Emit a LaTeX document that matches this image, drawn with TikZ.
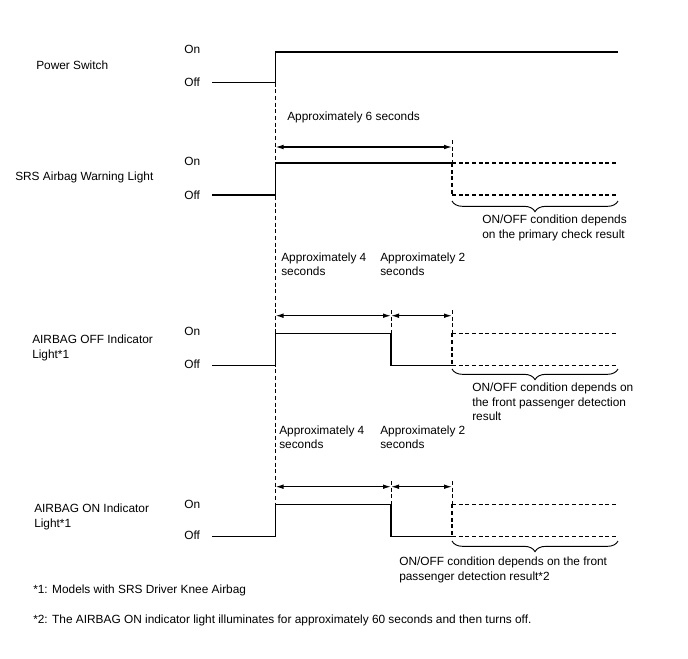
\documentclass[tikz,border=0pt]{standalone}
\usepackage{fontspec}
\setmainfont{Liberation Sans}
\usetikzlibrary{arrows.meta,decorations.pathreplacing}

\tikzset{
  lbl/.style={anchor=west, inner sep=0pt, align=left, font=\fontsize{8.9}{10.7}\selectfont},
  sig/.style={line width=1.2pt},
  open/.style={line width=0.9pt, dash pattern=on 3pt off 2pt},
  guide/.style={line width=0.5pt, dash pattern=on 3pt off 2pt},
  span/.style={line width=0.9pt, {Latex[length=6pt,width=3.5pt]}-{Latex[length=6pt,width=3.5pt]}},
  cond/.style={line width=0.7pt, decorate, decoration={brace, mirror, amplitude=8pt}}
}

\begin{document}
\begin{tikzpicture}[x=0.75pt, y=-0.75pt]
    \useasboundingbox (0,0) rectangle (688,658);
    % Power Switch:
    \node[lbl] (psw) at (36,65) {Power Switch};
    \node[lbl] (pson) at (184,49) {On};
    \node[lbl] (psoff) at (184,82.5) {Off};
    \draw[sig] (212,82.5) -- (275.5,82.5) -- (275.5,52) -- (618,52); % Signal
    \draw[guide] (275.5,82.5) -- (275.5,536.5); % Startlinie
    % SRS Airbag Warning Light:
    \node[lbl] (six) at (287,117) {Approximately 6 seconds};
    \coordinate (sa) at (275.5,147);
    \coordinate (sb) at (452,147);
    \draw[span] (sa) -- (sb);
    \node[lbl] (srs) at (15,177) {SRS Airbag Warning Light};
    \node[lbl] (srson) at (184,161) {On};
    \node[lbl] (srsoff) at (184,195) {Off};
    \draw[sig] (212,195) -- (275.5,195) -- (275.5,163) -- (452,163); % Signal
    \draw[guide] (452,140) -- (452,163);
    \draw[open] (452,163) -- (618,163); % On
    \draw[open] (452,163) -- (452,195);
    \draw[open] (452,195) -- (618,195); % Off
    \draw[cond] (452,201) -- (618,201);
    \node[lbl] (srscond) at (482,228) {ON/OFF condition depends\\on the primary check result};
    % AIRBAG OFF Indicator Light:
    \node[lbl] (offfour) at (281,264) {Approximately 4\\seconds};
    \node[lbl] (offtwo) at (380,264) {Approximately 2\\seconds};
    \coordinate (oa) at (275.5,315.7);
    \coordinate (ob) at (391,315.7);
    \coordinate (oc) at (452,315.7);
    \draw[guide] (391,310) -- (391,333.3);
    \draw[guide] (452,310) -- (452,333.3);
    \draw[span] (oa) -- (ob);
    \draw[span] (ob) -- (oc);
    \node[lbl] (offl) at (32,348) {AIRBAG OFF Indicator\\Light*1};
    \node[lbl] (offon) at (184,331) {On};
    \node[lbl] (offoff) at (184,364) {Off};
    \draw[sig] (212,365.5) -- (275.5,365.5) -- (275.5,333.3) -- (391,333.3) -- (391,365.5) -- (452,365.5); % Signal
    \draw[open] (452,333.3) -- (618,333.3); % On
    \draw[open] (452,333.3) -- (452,365.5);
    \draw[open] (452,365.5) -- (618,365.5); % Off
    \draw[cond] (452,369) -- (618,369);
    \node[lbl] (offcond) at (472,402) {ON/OFF condition depends on\\the front passenger detection\\result};
    % AIRBAG ON Indicator Light:
    \node[lbl] (onfour) at (279,437) {Approximately 4\\seconds};
    \node[lbl] (ontwo) at (380,437) {Approximately 2\\seconds};
    \coordinate (na) at (275.5,486.7);
    \coordinate (nb) at (391,486.7);
    \coordinate (nc) at (452,486.7);
    \draw[guide] (391,481) -- (391,504.3);
    \draw[guide] (452,481) -- (452,504.3);
    \draw[span] (na) -- (nb);
    \draw[span] (nb) -- (nc);
    \node[lbl] (onl) at (34,517) {AIRBAG ON Indicator\\Light*1};
    \node[lbl] (onon) at (184,504) {On};
    \node[lbl] (onoff) at (184,535) {Off};
    \draw[sig] (212,536.5) -- (275.5,536.5) -- (275.5,504.3) -- (391,504.3) -- (391,536.5) -- (452,536.5); % Signal
    \draw[open] (452,504.3) -- (618,504.3); % On
    \draw[open] (452,504.3) -- (452,536.5);
    \draw[open] (452,536.5) -- (618,536.5); % Off
    \draw[cond] (452,541) -- (618,541);
    \node[lbl] (oncond) at (399,570) {ON/OFF condition depends on the front\\passenger detection result*2};
    % Fussnoten:
    \node[lbl] (fna) at (33,590) {*1: Models with SRS Driver Knee Airbag};
    \node[lbl] (fnb) at (33,620) {*2: The AIRBAG ON indicator light illuminates for approximately 60 seconds and then turns off.};
\end{tikzpicture}
\end{document}
